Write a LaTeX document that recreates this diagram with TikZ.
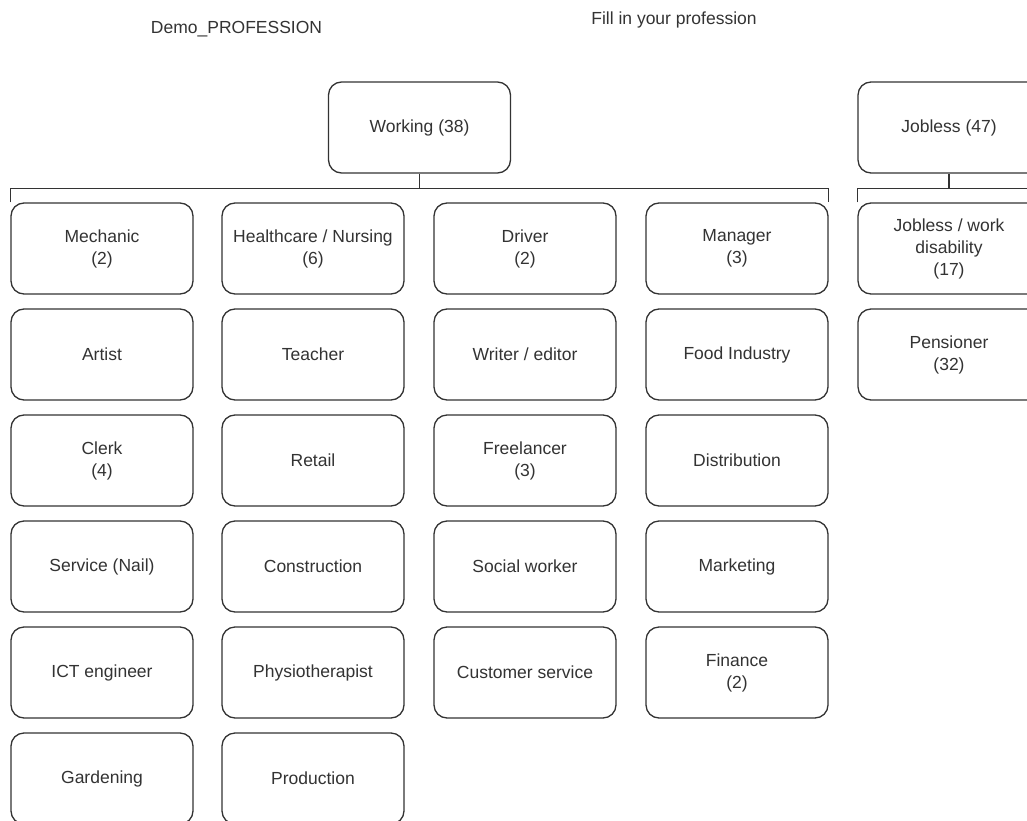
\documentclass[tikz,border=0pt]{standalone}
\usepackage{fontspec}
\setmainfont{Liberation Sans}
\usetikzlibrary{calc}
\definecolor{ink}{HTML}{333333}
\tikzset{
  catbox/.style={draw=ink, line width=1.3pt, rounded corners=13pt, fill=white,
    minimum width=182pt, minimum height=91pt, inner sep=2pt,
    align=center, text=ink, font=\fontsize{17.5}{22}\selectfont},
  topbox/.style={catbox, minimum width=182pt},
  bracket/.style={draw=ink, line width=1.3pt},
  caption/.style={text=ink, font=\fontsize{17.5}{22}\selectfont, inner sep=0pt}
}
\begin{document}
\begin{tikzpicture}[x=1pt, y=-1pt]
\useasboundingbox (0,0) rectangle (1027,821);
\clip (0,0) rectangle (1027,821);

% headings
\node[caption] (title) at (236.5,29) {Demo\_PROFESSION};
\node[caption] (hint) at (674,20) {Fill in your profession};

% top categories
\node[topbox] (work) at (419.5,127.5) {Working (38)};
\node[topbox] (jobless) at (949,127.5) {Jobless (47)};

% working: column 1
\node[catbox] (mech) at (102,248.5) {Mechanic\\(2)};
\node[catbox] (artist) at (102,354.5) {Artist};
\node[catbox] (clerk) at (102,460.5) {Clerk\\(4)};
\node[catbox] (nail) at (102,566.5) {Service (Nail)};
\node[catbox] (ict) at (102,672.5) {ICT engineer};
\node[catbox] (garden) at (102,778.5) {Gardening};
% column 2
\node[catbox] (health) at (313,248.5) {Healthcare / Nursing\\(6)};
\node[catbox] (teach) at (313,354.5) {Teacher};
\node[catbox] (retail) at (313,460.5) {Retail};
\node[catbox] (constr) at (313,566.5) {Construction};
\node[catbox] (physio) at (313,672.5) {Physiotherapist};
\node[catbox] (prod) at (313,778.5) {Production};
% column 3
\node[catbox] (driver) at (525,248.5) {Driver\\(2)};
\node[catbox] (writer) at (525,354.5) {Writer / editor};
\node[catbox] (free) at (525,460.5) {Freelancer\\(3)};
\node[catbox] (social) at (525,566.5) {Social worker};
\node[catbox] (cust) at (525,672.5) {Customer service};
% column 4
\node[catbox] (manager) at (737,248.5) {Manager\\(3)};
\node[catbox] (food) at (737,354.5) {Food Industry};
\node[catbox] (distr) at (737,460.5) {Distribution};
\node[catbox] (market) at (737,566.5) {Marketing};
\node[catbox] (fin) at (737,672.5) {Finance\\(2)};
% jobless column
\node[catbox] (disab) at (949,248.5) {Jobless / work\\disability\\(17)};
\node[catbox] (pens) at (949,354.5) {Pensioner\\(32)};

% bracket buses
\coordinate (wbus) at ($(work.south)+(0,15)$);
\coordinate (jbus) at ($(jobless.south)+(0,15)$);

\draw[bracket] (work.south) -- (wbus);
\draw[bracket] (mech.north west) -- (mech.north west |- wbus)
  -- (manager.north east |- wbus) -- (manager.north east);

\draw[bracket] (jobless.south) -- (jbus);
\draw[bracket] (disab.north west) -- (disab.north west |- jbus)
  -- (disab.north east |- jbus) -- (disab.north east);
\end{tikzpicture}
\end{document}
